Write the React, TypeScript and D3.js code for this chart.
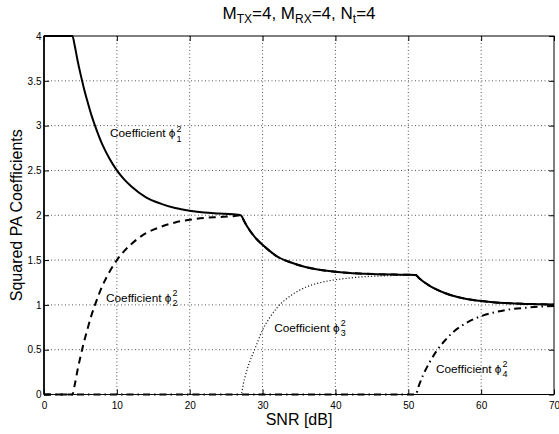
import React, { useRef, useEffect } from "react";
import * as d3 from "d3";

// SNR grid [dB] and squared PA coefficients
const snr = [
  0, 3, 3.9, 4.2, 4.6, 5, 5.5, 6, 6.5, 7, 8, 9, 10, 11, 12, 14, 16, 18, 20, 22,
  24, 26, 27, 27.5, 28, 29, 30, 31, 32, 34, 36, 38, 40, 42, 44, 46, 48, 50, 51,
  51.5, 52, 53, 54, 55, 56, 58, 60, 62, 64, 66, 68, 70,
];

const phi1 = [
  4, 4, 4, 3.9, 3.73, 3.58, 3.41, 3.26, 3.12, 3.0, 2.79, 2.63, 2.5, 2.4, 2.32,
  2.2, 2.13, 2.08, 2.05, 2.03, 2.02, 2.01, 2.0, 1.93, 1.86, 1.75, 1.67, 1.6,
  1.54, 1.47, 1.42, 1.39, 1.37, 1.355, 1.347, 1.342, 1.338, 1.336, 1.333, 1.297,
  1.264, 1.21, 1.167, 1.133, 1.105, 1.066, 1.042, 1.026, 1.017, 1.011, 1.007,
  1.004,
];

const phi2 = [
  0, 0, 0, 0.1, 0.27, 0.42, 0.59, 0.74, 0.88, 1.0, 1.21, 1.37, 1.5, 1.6, 1.68,
  1.8, 1.87, 1.92, 1.95, 1.97, 1.98, 1.99, 2.0, 1.93, 1.86, 1.75, 1.67, 1.6,
  1.54, 1.47, 1.42, 1.39, 1.37, 1.355, 1.347, 1.342, 1.338, 1.336, 1.333, 1.297,
  1.264, 1.21, 1.167, 1.133, 1.105, 1.066, 1.042, 1.026, 1.017, 1.011, 1.007,
  1.004,
];

const phi3 = [
  0, 0, 0, 0, 0, 0, 0, 0, 0, 0, 0, 0, 0, 0, 0, 0, 0, 0, 0, 0, 0, 0, 0, 0.17,
  0.31, 0.52, 0.72, 0.86, 0.97, 1.11, 1.2, 1.25, 1.28, 1.3, 1.315, 1.322, 1.328,
  1.331, 1.333, 1.297, 1.264, 1.21, 1.167, 1.133, 1.105, 1.066, 1.042, 1.026,
  1.017, 1.011, 1.007, 1.004,
];

const phi4 = [
  0, 0, 0, 0, 0, 0, 0, 0, 0, 0, 0, 0, 0, 0, 0, 0, 0, 0, 0, 0, 0, 0, 0, 0, 0, 0,
  0, 0, 0, 0, 0, 0, 0, 0, 0, 0, 0, 0, 0, 0.11, 0.21, 0.37, 0.5, 0.6, 0.685, 0.8,
  0.874, 0.92, 0.95, 0.967, 0.98, 0.988,
];

const xTicks = [0, 10, 20, 30, 40, 50, 60, 70];
const yTicks = [0, 0.5, 1, 1.5, 2, 2.5, 3, 3.5, 4];

const FONT = "'Liberation Sans', Arial, Helvetica, sans-serif";

const App = () => {
  const ref = useRef<SVGSVGElement>(null);

  useEffect(() => {
    if (!ref.current) return;
    const svg = d3.select(ref.current);
    svg.selectAll("*").remove();

    const left = 44,
      right = 554,
      top = 36,
      bottom = 394.5;

    const x = d3.scaleLinear().domain([0, 70]).range([left, right]);
    const y = d3.scaleLinear().domain([0, 4]).range([bottom, top]);

    svg.append("rect").attr("width", 559).attr("height", 434).attr("fill", "#fff");

    // dotted grid
    const grid = svg.append("g").attr("stroke", "#555").attr("stroke-width", 1).attr("stroke-dasharray", "1,2.5");
    xTicks.slice(1, -1).forEach((t) => {
      grid.append("line").attr("x1", x(t)).attr("x2", x(t)).attr("y1", top).attr("y2", bottom);
    });
    yTicks.slice(1, -1).forEach((t) => {
      grid.append("line").attr("x1", left).attr("x2", right).attr("y1", y(t)).attr("y2", y(t));
    });

    // axes with inward ticks
    const styleAxis = (g) => {
      g.select(".domain").remove();
      g.selectAll("line").attr("stroke", "#000");
      g.selectAll("text").attr("font-family", FONT).attr("font-size", 10).attr("fill", "#000");
    };
    svg
      .append("g")
      .attr("transform", `translate(0,${bottom})`)
      .call(d3.axisBottom(x).tickValues(xTicks).tickSizeInner(-5).tickSizeOuter(0).tickPadding(7).tickFormat(d3.format("d")))
      .call(styleAxis);
    svg
      .append("g")
      .attr("transform", `translate(${left},0)`)
      .call(d3.axisLeft(y).tickValues(yTicks).tickSizeInner(-5).tickSizeOuter(0).tickPadding(2.5).tickFormat(d3.format("~g")))
      .call(styleAxis);
    svg
      .append("g")
      .attr("transform", `translate(0,${top})`)
      .call(d3.axisTop(x).tickValues(xTicks).tickSizeInner(-5).tickSizeOuter(0).tickFormat(() => ""))
      .call(styleAxis);
    svg
      .append("g")
      .attr("transform", `translate(${right},0)`)
      .call(d3.axisRight(y).tickValues(yTicks).tickSizeInner(-5).tickSizeOuter(0).tickFormat(() => ""))
      .call(styleAxis);

    svg
      .append("rect")
      .attr("x", left)
      .attr("y", top)
      .attr("width", right - left)
      .attr("height", bottom - top)
      .attr("fill", "none")
      .attr("stroke", "#000")
      .attr("stroke-width", 1);
    // left axis looks heavier in the original
    svg.append("line").attr("x1", left).attr("x2", left).attr("y1", top).attr("y2", bottom).attr("stroke", "#000").attr("stroke-width", 1.6);

    // curves
    const line = (vals: number[]) =>
      d3
        .line<number>()
        .x((_, i) => x(snr[i]))
        .y((d) => y(d))
        .curve(d3.curveMonotoneX)(vals);

    const series = [
      { vals: phi4, width: 2, dash: "7,4,1.5,4", color: "#000" },
      { vals: phi3, width: 1.2, dash: "1.2,2", color: "#222" },
      { vals: phi2, width: 2, dash: "7,5", color: "#000" },
      { vals: phi1, width: 2, dash: null, color: "#000" },
    ];
    series.forEach((s) => {
      svg
        .append("path")
        .attr("d", line(s.vals))
        .attr("fill", "none")
        .attr("stroke", s.color)
        .attr("stroke-width", s.width)
        .attr("stroke-dasharray", s.dash);
    });

    // coefficient labels
    const labels = [
      { sub: "1", at: [9.06, 2.87] },
      { sub: "2", at: [8.51, 1.036] },
      { sub: "3", at: [31.6, 0.7] },
      { sub: "4", at: [53.8, 0.243] },
    ];
    labels.forEach((l) => {
      const lx = x(l.at[0]);
      const ly = y(l.at[1]);
      const t = svg
        .append("text")
        .attr("x", lx)
        .attr("y", ly)
        .attr("font-family", FONT)
        .attr("font-size", 11.8)
        .text("Coefficient \u03D5");
      const w = (t.node() as SVGTextElement).getComputedTextLength();
      svg
        .append("text")
        .attr("x", lx + w + 1)
        .attr("y", ly - 5.5)
        .attr("font-family", FONT)
        .attr("font-size", 9)
        .text("2");
      svg
        .append("text")
        .attr("x", lx + w + 1)
        .attr("y", ly + 4.5)
        .attr("font-family", FONT)
        .attr("font-size", 9)
        .text(l.sub);
    });

    // title
    const title = svg
      .append("text")
      .attr("x", (left + right) / 2)
      .attr("y", 19)
      .attr("text-anchor", "middle")
      .attr("font-family", FONT)
      .attr("font-size", 17);
    const parts: [string, boolean][] = [
      ["M", false],
      ["TX", true],
      ["=4, M", false],
      ["RX", true],
      ["=4, N", false],
      ["t", true],
      ["=4", false],
    ];
    parts.forEach(([txt, isSub], i) => {
      const prevSub = i > 0 && parts[i - 1][1];
      title
        .append("tspan")
        .attr("dy", isSub ? 4 : prevSub ? -4 : 0)
        .attr("font-size", isSub ? 12 : 17)
        .text(txt);
    });

    svg
      .append("text")
      .attr("x", (left + right) / 2)
      .attr("y", 424.5)
      .attr("text-anchor", "middle")
      .attr("font-family", FONT)
      .attr("font-size", 16)
      .text("SNR [dB]");

    svg
      .append("text")
      .attr("transform", `translate(21.5,${(top + bottom) / 2}) rotate(-90)`)
      .attr("text-anchor", "middle")
      .attr("font-family", FONT)
      .attr("font-size", 16)
      .text("Squared PA Coefficients");
  }, []);

  return (
    <svg
      ref={ref}
      width={559}
      height={434}
      style={{ position: "absolute", left: 0, top: 0 }}
    />
  );
};

export default App;
